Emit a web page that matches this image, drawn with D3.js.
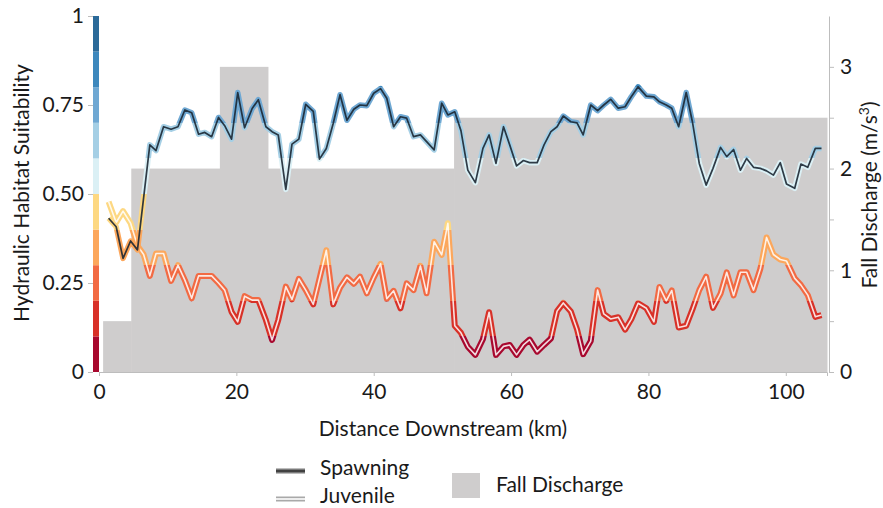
<!DOCTYPE html>
<html>
<head>
<meta charset="utf-8">
<script src="https://cdn.jsdelivr.net/npm/d3@7"></script>
<style>
  body { margin: 0; background: #fff; }
  text { font-family: Lato, "Open Sans", sans-serif; fill: #1a1a1a; }
</style>
</head>
<body>
<div id="chart"></div>
<script>
// distance of each reach (km) and suitability per life stage
var distanceKm = [1.4,2.5,3.5,4.6,5.6,6.5,7.4,8.3,9.4,10.5,11.5,12.5,13.5,14.5,15.4,16.4,17.4,18.3,19.3,20.2,
  21.2,22.3,23.2,24.3,25.2,26.1,27.2,28.1,29.1,30.1,
  31.2,32.1,33.1,34.1,35.1,36.1,37.1,38.0,39.0,40.0,41.0,
  41.9,42.9,43.9,44.8,45.8,46.8,47.7,48.8,49.9,50.8,
  51.8,52.7,53.7,54.8,55.9,56.8,57.8,58.9,59.8,60.8,
  61.8,62.7,63.8,64.8,65.8,66.7,67.6,68.7,69.6,70.5,
  71.6,72.6,73.5,74.5,75.6,76.6,77.5,78.5,79.7,80.8,
  81.6,82.6,83.4,84.4,85.5,86.4,87.4,88.4,89.4,90.5,
  91.4,92.4,93.4,94.3,95.3,96.3,97.2,98.2,99.2,100.1,
  101.3,102.2,103.2,104.3,105.2];

var spawning = [0.432,0.408,0.319,0.368,0.343,0.49,0.638,0.622,0.689,0.682,0.689,0.736,0.728,0.668,0.673,0.661,0.715,0.692,0.654,0.785,
  0.686,0.74,0.765,0.689,0.675,0.666,0.513,0.64,0.654,0.752,
  0.732,0.598,0.628,0.698,0.779,0.707,0.738,0.75,0.748,0.783,0.796,
  0.769,0.689,0.717,0.713,0.661,0.666,0.647,0.624,0.755,0.722,
  0.731,0.678,0.567,0.532,0.628,0.666,0.586,0.689,0.638,0.579,
  0.594,0.588,0.588,0.638,0.675,0.689,0.719,0.703,0.70,0.666,
  0.75,0.734,0.75,0.766,0.741,0.745,0.773,0.801,0.775,0.773,
  0.759,0.75,0.741,0.689,0.785,0.703,0.586,0.525,0.572,0.631,
  0.605,0.625,0.567,0.60,0.575,0.572,0.565,0.553,0.588,0.528,
  0.516,0.584,0.575,0.628,0.628];

var juvenile = [0.478,0.42,0.452,0.418,0.355,0.33,0.27,0.333,0.333,0.256,0.30,0.258,0.207,0.27,0.27,0.27,0.25,0.23,0.169,0.141,
  0.213,0.202,0.202,0.146,0.09,0.146,0.24,0.204,0.262,0.23,
  0.19,0.262,0.342,0.19,0.237,0.266,0.248,0.268,0.221,0.265,0.304,
  0.206,0.228,0.179,0.249,0.23,0.298,0.221,0.366,0.329,0.418,
  0.13,0.11,0.071,0.048,0.092,0.168,0.048,0.072,0.076,0.048,
  0.076,0.091,0.057,0.076,0.094,0.171,0.194,0.17,0.12,0.05,
  0.087,0.23,0.163,0.149,0.154,0.119,0.148,0.193,0.179,0.141,
  0.239,0.20,0.229,0.125,0.13,0.175,0.23,0.268,0.18,0.22,
  0.28,0.215,0.28,0.28,0.23,0.29,0.378,0.33,0.316,0.312,
  0.263,0.244,0.216,0.155,0.16];

// fall discharge steps (km edges, m3/s)
var dischargeStart = [0.6, 4.7, 17.6, 24.6, 51.7];
var dischargeEnd   = [4.7, 17.6, 24.6, 51.7, 106];
var dischargeValue = [0.5, 2.0, 3.0, 2.0, 2.5];

var suitTicks = [0, 0.25, 0.5, 0.75, 1];
var suitTickLabels = ["0", "0.25", "0.50", "0.75", "1"];
var qTicks = [0, 0.5, 1, 1.5, 2, 2.5, 3];
var kmTicks = [0, 20, 40, 60, 80, 100];

// 10 colour classes of suitability, 0-0.1 ... 0.9-1
var binColors = ["#a8082e","#d83128","#f26a43","#fca75c","#fdd882",
                 "#dbf0f5","#a5cfe5","#6fa8d3","#3d88bd","#2b6a99"];

var W = 883, H = 508;
var svg = d3.select("#chart").append("svg").attr("width", W).attr("height", H);

var x = d3.scaleLinear().domain([0, 106]).range([99, 827]);
var y = d3.scaleLinear().domain([0, 1]).range([372, 16]);
var yQ = d3.scaleLinear().domain([0, 3.5]).range([372, 16]);

// gradient with hard steps, in user space so colour follows the value
var grad = svg.append("defs").append("linearGradient")
  .attr("id", "suitGrad")
  .attr("gradientUnits", "userSpaceOnUse")
  .attr("x1", 0).attr("x2", 0)
  .attr("y1", y(0)).attr("y2", y(1));
binColors.forEach(function(c, i) {
  grad.append("stop").attr("offset", i / 10).attr("stop-color", c);
  grad.append("stop").attr("offset", (i + 1) / 10).attr("stop-color", c);
});

// discharge area
var steps = dischargeValue.map(function(v, i) {
  return {x0: dischargeStart[i], x1: dischargeEnd[i], q: v};
});
svg.append("g").selectAll("rect")
  .data(steps)
  .enter().append("rect")
  .attr("x", function(d) { return x(d.x0); })
  .attr("width", function(d) { return x(d.x1) - x(d.x0) + 0.5; })
  .attr("y", function(d) { return yQ(d.q); })
  .attr("height", function(d) { return yQ(0) - yQ(d.q); })
  .attr("fill", "#cfcdcd");

// axes
var grey = "#bdbdbd";
var xAxis = svg.append("g")
  .attr("transform", "translate(0,372)")
  .call(d3.axisBottom(x).tickValues(kmTicks).tickSize(4).tickSizeOuter(4).tickPadding(8));
var yAxis = svg.append("g")
  .attr("transform", "translate(93,0)")
  .call(d3.axisLeft(y).tickValues(suitTicks).tickSize(5).tickPadding(4)
    .tickFormat(function(d, i) { return suitTickLabels[i]; }));
yAxis.select(".domain").remove();
var qAxis = svg.append("g")
  .attr("transform", "translate(829,0)")
  .call(d3.axisRight(yQ).tickValues(qTicks).tickSize(5).tickSizeOuter(0).tickPadding(6)
    .tickFormat(function(d) { return d % 1 === 0 ? d : ""; }));
[xAxis, yAxis, qAxis].forEach(function(g) {
  g.selectAll("path, line").attr("stroke", grey);
  g.selectAll("text").style("font-size", "21px").attr("fill", "#1a1a1a");
});

// colour bar on the left axis
svg.append("g").selectAll("rect")
  .data(binColors)
  .enter().append("rect")
  .attr("x", 93).attr("width", 6)
  .attr("y", function(d, i) { return y((i + 1) / 10); })
  .attr("height", function(d, i) { return y(i / 10) - y((i + 1) / 10); })
  .attr("fill", function(d) { return d; });

// suitability lines
var line = d3.line()
  .x(function(d) { return x(d[0]); })
  .y(function(d) { return y(d[1]); });
var juvPts = distanceKm.map(function(k, i) { return [k, juvenile[i]]; });
var spPts = distanceKm.map(function(k, i) { return [k, spawning[i]]; });

svg.append("path").datum(juvPts).attr("d", line)
  .attr("fill", "none").attr("stroke", "url(#suitGrad)").attr("stroke-width", 6)
  .attr("stroke-linejoin", "round");
svg.append("path").datum(juvPts).attr("d", line)
  .attr("fill", "none").attr("stroke", "#fff").attr("stroke-opacity", 0.85)
  .attr("stroke-width", 1.6).attr("stroke-linejoin", "round");

svg.append("path").datum(spPts).attr("d", line)
  .attr("fill", "none").attr("stroke", "url(#suitGrad)").attr("stroke-width", 5.5)
  .attr("stroke-linejoin", "round");
svg.append("path").datum(spPts).attr("d", line)
  .attr("fill", "none").attr("stroke", "#1b2733").attr("stroke-opacity", 0.9)
  .attr("stroke-width", 1.7).attr("stroke-linejoin", "round");

// titles
svg.append("text")
  .attr("transform", "translate(29,193) rotate(-90)")
  .attr("text-anchor", "middle").style("font-size", "21px")
  .text("Hydraulic Habitat Suitability");
var qt = svg.append("text")
  .attr("transform", "translate(877,195) rotate(-90)")
  .attr("text-anchor", "middle").style("font-size", "21px");
qt.append("tspan").text("Fall Discharge (m/s");
qt.append("tspan").attr("dy", -8).style("font-size", "14px").text("3");
qt.append("tspan").attr("dy", 8).text(")");
svg.append("text")
  .attr("x", 443).attr("y", 436)
  .attr("text-anchor", "middle").style("font-size", "21px")
  .text("Distance Downstream (km)");

// legend
var lg = svg.append("g");
lg.append("line").attr("x1", 276).attr("x2", 305).attr("y1", 471).attr("y2", 471)
  .attr("stroke", "#7a7a7a").attr("stroke-width", 5);
lg.append("line").attr("x1", 276).attr("x2", 305).attr("y1", 471).attr("y2", 471)
  .attr("stroke", "#333").attr("stroke-width", 1.6);
lg.append("text").attr("x", 320).attr("y", 475).style("font-size", "21px").text("Spawning");
lg.append("line").attr("x1", 276).attr("x2", 305).attr("y1", 499).attr("y2", 499)
  .attr("stroke", "#a9a9a9").attr("stroke-width", 5);
lg.append("line").attr("x1", 276).attr("x2", 305).attr("y1", 499).attr("y2", 499)
  .attr("stroke", "#fff").attr("stroke-width", 1.6);
lg.append("text").attr("x", 320).attr("y", 503).style("font-size", "21px").text("Juvenile");
lg.append("rect").attr("x", 452).attr("y", 473).attr("width", 28).attr("height", 25)
  .attr("fill", "#cfcdcd");
lg.append("text").attr("x", 496).attr("y", 492).style("font-size", "21px").text("Fall Discharge");
</script>
</body>
</html>
